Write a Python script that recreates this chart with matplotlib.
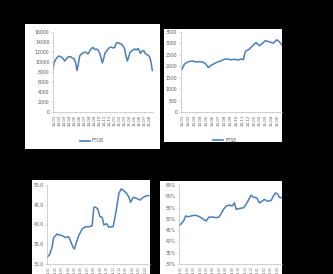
import matplotlib
matplotlib.use("Agg")
import matplotlib.pyplot as plt

# ---------------- data ----------------
a_t = [160,163,167,172,178,185,190,195,200,205,212,218,224,228,232,236,240,245,250,255,260,265,270,275,280,285,290,295,300,304,308,312,316,320,325,330,335,340,345,350,355,360,365,370,375,379,383,387,391,395,400,405,410,415,419,422,426,432,436,440,445,450,454,458]
a_v = [8500,9800,10400,10900,11200,11000,10700,10200,10600,11000,11100,10800,10600,9800,8300,9600,11200,11600,11800,12000,11900,11600,12200,12700,12900,12500,12600,12400,11800,10800,9800,10700,11800,12100,12600,12900,13000,12800,12900,13800,13900,13700,13600,13200,12600,11200,10200,11000,11900,12200,12400,12600,12400,12700,12300,11700,12100,12300,11800,11500,11400,11000,10000,8300]
a_yticks = [0,2000,4000,6000,8000,10000,12000,14000,16000]
a_legend = "FTGB"

b_t = [48,55,65,78,90,100,110,120,127,135,145,155,165,175,185,195,205,215,225,232,238,250,260,270,280,290,298,310,322,332,340,348]
b_v = [1870,2090,2190,2235,2190,2200,2190,2090,1940,2040,2120,2190,2235,2310,2320,2280,2310,2270,2320,2290,2650,2750,2900,3040,2900,3010,3120,3070,3010,3160,3070,2930]
b_yticks = [0,500,1000,1500,2000,2500,3000,3500]
b_legend = "FTSE"

c_t = [140,148,155,160,170,175,185,195,205,210,218,222,228,235,245,255,265,275,280,285,292,298,305,310,318,325,330,338,345,350,355,362,370,378,385,390,398,408,418,428,438,445]
c_v = [31.7,32.4,34.2,36.7,37.6,37.4,37.2,36.7,36.9,35.9,34.2,33.8,35.5,37.2,38.9,39.4,39.4,39.7,44.3,44.4,43.9,42.0,41.8,39.9,40.2,39.3,39.4,39.5,42.6,45.2,47.9,49.0,48.5,47.9,46.9,45.6,46.9,46.6,46.2,46.9,47.3,47.3]
c_yticks = [30,35,40,45,50]

d_t = [38,45,52,58,65,75,85,95,105,115,120,128,140,150,158,165,172,180,190,198,205,210,220,232,240,248,255,262,272,280,288,295,305,315,320,328,335,340,348]
d_v = [46.9,47.9,49.1,51.3,50.9,51.3,51.6,51.3,50.5,49.4,49.1,50.8,50.8,50.5,50.8,52.3,54.2,55.7,56.1,55.7,57.1,54.2,54.6,54.9,56.4,58.6,60.5,59.6,59.3,57.1,57.8,58.6,57.8,58.1,59.6,61.5,61.0,59.6,59.3]
d_yticks = [30,35,40,45,50,55,60,65]

date_labels = ["14-01","14-02","14-03","14-04","14-05","14-06","14-07","14-08","14-09","14-10",
               "14-11","14-12","15-01","15-02","15-03","15-04","15-05","15-06","15-07","15-08"]

# ---------------- figure ----------------
W, H = 333, 274
fig = plt.figure(figsize=(W/100, H/100), dpi=100, facecolor="black")

def px_rect(x0, y0, x1, y1):
    return [x0/W, 1 - y1/H, (x1-x0)/W, (y1-y0)/H]

def frame(x0, y0, x1, y1):
    f = fig.add_axes(px_rect(x0, y0, x1, y1))
    f.set_facecolor("white")
    f.set_xticks([]); f.set_yticks([])
    for s in f.spines.values():
        s.set_visible(False)
    return f

LINE = "#4A7EBB"
GRAY = "#BFBFBF"
TXT = "#595959"

def panel(rect, t, v, xlim, yticks, ylabels, nlab, xfs=2.8, xpad=1):
    ax = fig.add_axes(px_rect(*rect))
    ax.set_facecolor("none")
    ax.plot(t, v, color=LINE, lw=1.1, clip_on=True)
    ax.set_xlim(*xlim)
    ax.set_ylim(yticks[0], yticks[-1])
    ax.set_yticks(yticks)
    ax.set_yticklabels(ylabels, fontsize=3.3, color=TXT)
    step = (xlim[1]-xlim[0]) / nlab
    xt = [xlim[0] + step*(i+0.3) for i in range(nlab)]
    ax.set_xticks(xt)
    ax.set_xticklabels(date_labels[:nlab], rotation=90, fontsize=xfs, color=TXT)
    ax.tick_params(axis="y", length=1.5, width=0.4, color=GRAY, pad=1)
    ax.tick_params(axis="x", length=1.0, width=0.4, color=GRAY, pad=xpad)
    for s in ["top", "right"]:
        ax.spines[s].set_visible(False)
    for s in ["left", "bottom"]:
        ax.spines[s].set_color(GRAY)
        ax.spines[s].set_linewidth(0.5)
    return ax

# Panel A
frame(25, 24, 160, 149)
panel((53, 32, 153, 112), a_t, a_v, (160, 460), a_yticks,
      [str(y) for y in a_yticks], 20)
fig.lines.append(plt.Line2D([80/W, 90/W], [1-141/H, 1-141/H], color=LINE, lw=1.2,
                            transform=fig.transFigure))
fig.text(91/W, 1-141/H, a_legend, fontsize=3.3, color=TXT, va="center")

# Panel B
frame(164, 29, 282, 142)
panel((181, 32, 282, 112), b_t, b_v, (45, 348), b_yticks,
      [str(y) for y in b_yticks], 17)
fig.lines.append(plt.Line2D([213/W, 223/W], [1-140/H, 1-140/H], color=LINE, lw=1.2,
                            transform=fig.transFigure))
fig.text(225/W, 1-140/H, b_legend, fontsize=3.3, color=TXT, va="center")

# Panel C
frame(32, 180, 150, 274)
panel((47, 185, 150, 264), c_t, c_v, (140, 448), c_yticks,
      ["%.1f" % y for y in c_yticks], 16, xfs=2.0, xpad=0.4)

# Panel D
frame(160, 181, 282, 274)
panel((179, 185, 282, 264), d_t, d_v, (38, 348), d_yticks,
      ["%d%%" % y for y in d_yticks], 16, xfs=2.0, xpad=0.4)

fig.savefig("out.png", dpi=100, facecolor="black")
